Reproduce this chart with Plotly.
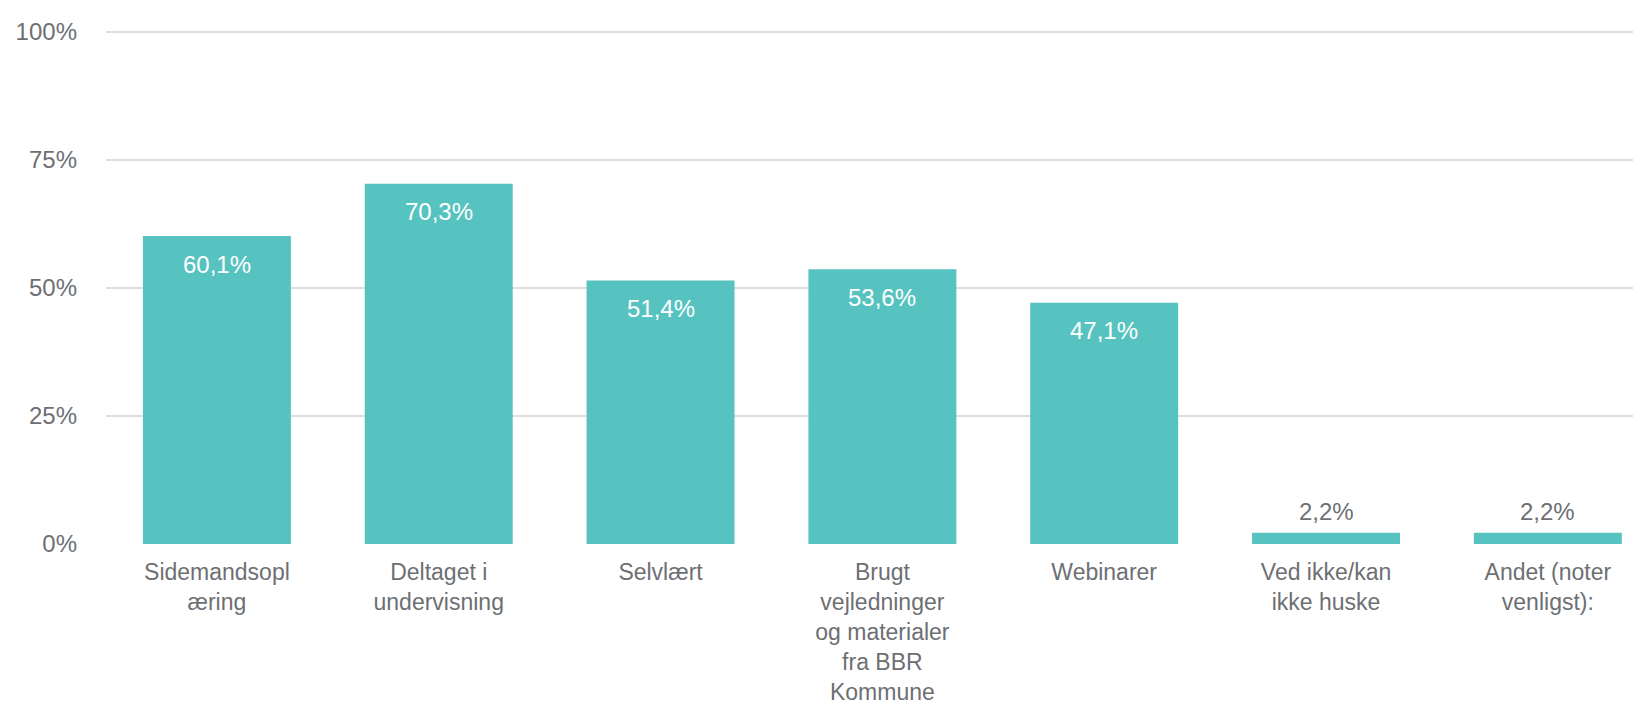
import plotly.graph_objects as go

categories = [
    "Sidemandsoplæring",
    "Deltaget i undervisning",
    "Selvlært",
    "Brugt vejledninger og materialer fra BBR Kommune",
    "Webinarer",
    "Ved ikke/kan ikke huske",
    "Andet (noter venligst):",
]
tick_labels = [
    "Sidemandsopl<br>æring",
    "Deltaget i<br>undervisning",
    "Selvlært",
    "Brugt<br>vejledninger<br>og materialer<br>fra BBR<br>Kommune",
    "Webinarer",
    "Ved ikke/kan<br>ikke huske",
    "Andet (noter<br>venligst):",
]
values = [60.1, 70.3, 51.4, 53.6, 47.1, 2.2, 2.2]
y_ticks = [0, 25, 50, 75, 100]
y_tick_labels = ["0%", "25%", "50%", "75%", "100%"]

FONT = "Liberation Sans, Arial, sans-serif"
GRAY = "#6d6f73"
BAR = "#57c3c0"

x_idx = list(range(len(categories)))

fig = go.Figure()
fig.add_trace(go.Bar(
    x=x_idx, y=values,
    marker=dict(color=BAR, line=dict(width=0)),
    hoverinfo="skip",
))

for i, v in enumerate(values):
    txt = f"{v:.1f}".replace(".", ",") + "%"
    inside = v > 10
    fig.add_annotation(
        x=i, y=v, text=txt, showarrow=False,
        xref="x", yref="y",
        yshift=-28 if inside else 21,
        font=dict(family=FONT, size=24, color="white" if inside else GRAY),
    )

# page body has an 8px margin, so the figure is sized to fit inside the window
fig.update_layout(
    width=1633, height=697,
    margin=dict(l=98, r=0, t=22, b=161, autoexpand=False),
    paper_bgcolor="white", plot_bgcolor="white",
    bargap=0.333,
    showlegend=False,
    font=dict(family=FONT, size=23, color=GRAY),
)
fig.update_xaxes(
    range=[-0.5, 6.42],
    tickmode="array", tickvals=x_idx, ticktext=tick_labels,
    showgrid=False, zeroline=False, showline=False, ticks="",
    ticklabelstandoff=12, automargin=False,
    tickfont=dict(family=FONT, size=23, color=GRAY),
    fixedrange=True,
)
fig.update_yaxes(
    range=[0, 100.3],
    tickmode="array", tickvals=y_ticks, ticktext=y_tick_labels,
    showgrid=True, gridcolor="#dedede", gridwidth=2,
    zeroline=False, showline=False, ticks="",
    ticklabelstandoff=28, automargin=False,
    tickfont=dict(family=FONT, size=24, color=GRAY),
    fixedrange=True,
)

fig.write_html("out.html")
